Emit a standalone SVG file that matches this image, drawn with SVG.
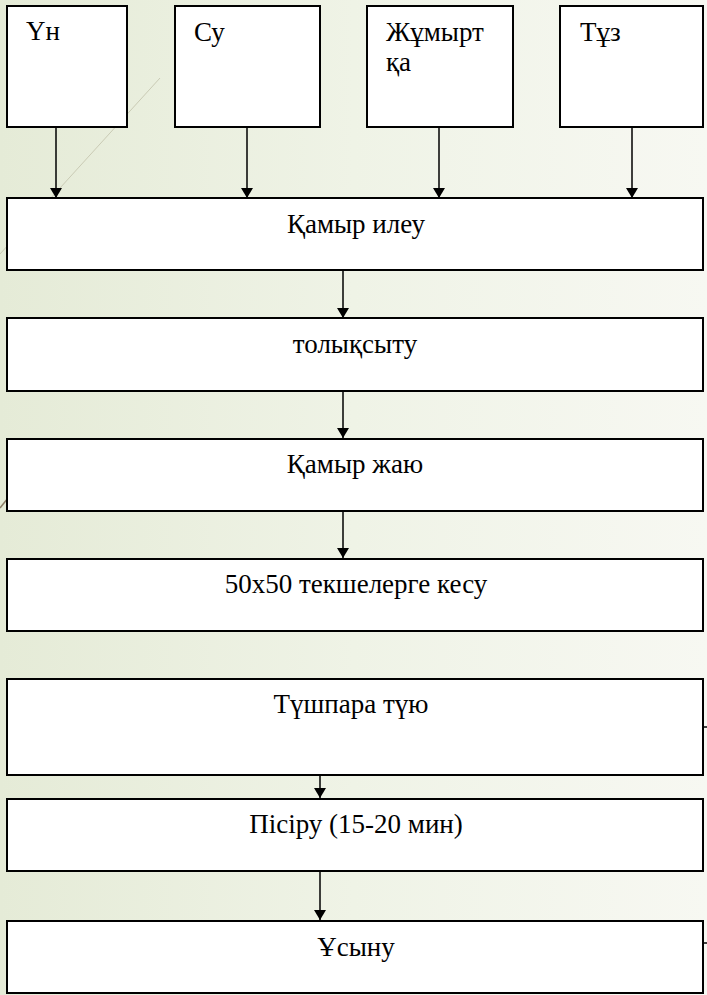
<svg xmlns="http://www.w3.org/2000/svg" width="707" height="995" viewBox="0 0 707 995">
<defs>
<linearGradient id="bg" x1="0" y1="0" x2="1" y2="0">
<stop offset="0" stop-color="#e5ebd7"/>
<stop offset="0.5" stop-color="#eff3e6"/>
<stop offset="1" stop-color="#f7f8f2"/>
</linearGradient>
<marker id="ah" viewBox="0 0 10 12" refX="10" refY="6" markerWidth="10" markerHeight="12" markerUnits="userSpaceOnUse" orient="auto">
<path d="M0,0 L10,6 L0,12 Z" fill="#000"/>
</marker>
<style>
.box{fill:#fff;stroke:#000;stroke-width:2}
.c{text-anchor:middle}
.conn line{stroke:#000;stroke-width:1.5;marker-end:url(#ah)}
</style>
</defs>
<rect width="707" height="995" fill="url(#bg)"/>
<line x1="160" y1="78" x2="0" y2="254" stroke="#c9cab4" stroke-width="1"/>
<line x1="0" y1="508" x2="8" y2="498" stroke="#8c7e66" stroke-width="1.5"/>
<line x1="703" y1="727" x2="707" y2="727" stroke="#000" stroke-width="1.5"/>
<line x1="703" y1="943" x2="707" y2="943" stroke="#000" stroke-width="1.5"/>

<g class="conn">
<line x1="56" y1="127" x2="56" y2="198"/>
<line x1="247" y1="127" x2="247" y2="198"/>
<line x1="439" y1="127" x2="439" y2="198"/>
<line x1="632" y1="127" x2="632" y2="198"/>
<line x1="343" y1="270" x2="343" y2="318"/>
<line x1="343" y1="391" x2="343" y2="438"/>
<line x1="343" y1="511" x2="343" y2="558"/>
<line x1="320" y1="775" x2="320" y2="798"/>
<line x1="320" y1="871" x2="320" y2="920"/>
</g>

<g font-family="'Liberation Serif', 'Times New Roman', 'DejaVu Serif', serif" font-size="27" fill="#000">
<g id="n-un"><rect class="box" x="7" y="6" width="120" height="121"/><text x="26" y="40">Үн</text></g>
<g id="n-su"><rect class="box" x="175" y="6" width="145" height="121"/><text x="194" y="41">Су</text></g>
<g id="n-zhumyrtka"><rect class="box" x="367" y="6" width="146" height="121"/><text x="386" y="41">Жұмырт</text><text x="386" y="71">қа</text></g>
<g id="n-tuz"><rect class="box" x="560" y="6" width="143" height="121"/><text x="580" y="41">Тұз</text></g>
<g id="n-ileu"><rect class="box" x="7" y="198" width="696" height="72"/><text class="c" x="356" y="233">Қамыр илеу</text></g>
<g id="n-tolyk"><rect class="box" x="7" y="318" width="696" height="73"/><text class="c" x="355" y="353">толықсыту</text></g>
<g id="n-zhayu"><rect class="box" x="7" y="439" width="696" height="72"/><text class="c" x="355" y="473">Қамыр жаю</text></g>
<g id="n-kesu"><rect class="box" x="7" y="559" width="696" height="72"/><text class="c" x="356" y="593">50x50 текшелерге кесу</text></g>
<g id="n-tuyu"><rect class="box" x="7" y="679" width="696" height="96"/><text class="c" x="351" y="713">Түшпара түю</text></g>
<g id="n-pisiru"><rect class="box" x="7" y="799" width="696" height="72"/><text class="c" x="356" y="833">Пісіру (15-20 мин)</text></g>
<g id="n-usynu"><rect class="box" x="7" y="921" width="696" height="72"/><text class="c" x="356" y="956">Ұсыну</text></g>
</g>
</svg>
